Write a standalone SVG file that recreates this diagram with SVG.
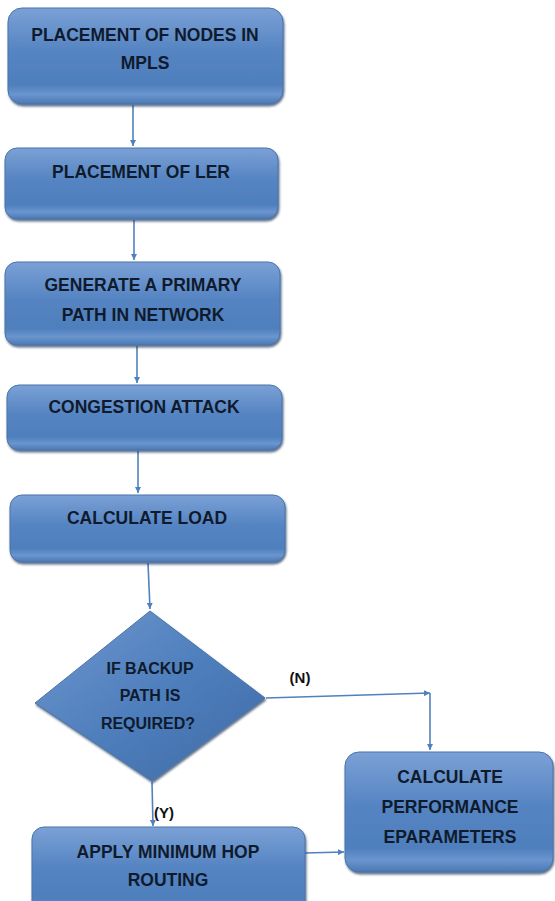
<svg xmlns="http://www.w3.org/2000/svg" width="555" height="901" viewBox="0 0 555 901">
<defs>
<linearGradient id="g" x1="0" y1="0" x2="0" y2="1">
<stop offset="0" stop-color="#7ba1d6"/>
<stop offset="0.45" stop-color="#5584c2"/>
<stop offset="0.8" stop-color="#4f7fbd"/>
<stop offset="0.9" stop-color="#6a95cf"/>
<stop offset="1" stop-color="#4a78b3"/>
</linearGradient>
<linearGradient id="gd" x1="0" y1="0" x2="1" y2="1">
<stop offset="0" stop-color="#6f97cd"/>
<stop offset="0.5" stop-color="#4f7fbd"/>
<stop offset="1" stop-color="#3d6aa5"/>
</linearGradient>
<filter id="sh" x="-10%" y="-10%" width="130%" height="130%">
<feDropShadow dx="1" dy="2" stdDeviation="1.2" flood-color="#1f3556" flood-opacity="0.7"/>
</filter>
<marker id="ah" viewBox="0 0 10 10" refX="10" refY="5" markerWidth="6" markerHeight="6" orient="auto" markerUnits="userSpaceOnUse">
<path d="M0,0 L10,5 L0,10 z" fill="#4f81bd"/>
</marker>
<style>
.box{fill:url(#g);stroke:#4a74ab;stroke-width:1;filter:url(#sh)}
.dia{fill:url(#gd);stroke:#4a74ab;stroke-width:1;filter:url(#sh)}
.t{font-family:"Liberation Sans",Arial,sans-serif;font-weight:bold;font-size:17.5px;fill:#0f1b2d;text-anchor:middle}
.td{font-size:16px}
.lbl{font-family:"Liberation Sans",Arial,sans-serif;font-weight:bold;font-size:15px;fill:#111;text-anchor:middle}
.c{stroke:#4f81bd;stroke-width:1.6;fill:none}
</style>
</defs>
<g id="connectors">
<line class="c" x1="133" y1="105" x2="133" y2="146" marker-end="url(#ah)"/>
<line class="c" x1="134" y1="220" x2="134" y2="260" marker-end="url(#ah)"/>
<line class="c" x1="137" y1="346" x2="137" y2="383" marker-end="url(#ah)"/>
<line class="c" x1="138" y1="451" x2="138" y2="493" marker-end="url(#ah)"/>
<line class="c" x1="148" y1="563" x2="150" y2="609" marker-end="url(#ah)"/>
<line class="c" x1="266" y1="698" x2="430" y2="693" marker-end="url(#ah)"/>
<line class="c" x1="430" y1="693" x2="430" y2="750" marker-end="url(#ah)"/>
<line class="c" x1="152" y1="782" x2="153" y2="826" marker-end="url(#ah)"/>
<line class="c" x1="305" y1="853" x2="344" y2="852" marker-end="url(#ah)"/>
</g>
<g id="n1">
<rect class="box" x="8" y="8" width="275" height="96" rx="14"/>
<text class="t" x="145" y="41">PLACEMENT OF NODES IN</text>
<text class="t" x="145" y="69">MPLS</text>
</g>
<g id="n2">
<rect class="box" x="5" y="148" width="273" height="71" rx="12"/>
<text class="t" x="141" y="178">PLACEMENT OF LER</text>
</g>
<g id="n3">
<rect class="box" x="5" y="262" width="275" height="83" rx="12"/>
<text class="t" x="143" y="291">GENERATE A PRIMARY</text>
<text class="t" x="143" y="321">PATH IN NETWORK</text>
</g>
<g id="n4">
<rect class="box" x="7" y="385" width="275" height="65" rx="12"/>
<text class="t" x="144" y="413">CONGESTION ATTACK</text>
</g>
<g id="n5">
<rect class="box" x="10" y="495" width="275" height="67" rx="12"/>
<text class="t" x="147" y="524">CALCULATE LOAD</text>
</g>
<g id="n6">
<polygon class="dia" points="150,611 265,698 152,781 35,703"/>
<text class="t td" x="150" y="674">IF BACKUP</text>
<text class="t td" x="150" y="701">PATH IS</text>
<text class="t td" x="148" y="729">REQUIRED?</text>
</g>
<text class="lbl" x="300" y="683">(N)</text>
<text class="lbl" x="164" y="818">(Y)</text>
<g id="n7">
<rect class="box" x="345" y="752" width="208" height="120" rx="14"/>
<text class="t" x="450" y="783">CALCULATE</text>
<text class="t" x="450" y="813">PERFORMANCE</text>
<text class="t" x="450" y="843">EPARAMETERS</text>
</g>
<g id="n8">
<rect class="box" x="32" y="827" width="273" height="90" rx="12"/>
<text class="t" x="168" y="858">APPLY MINIMUM HOP</text>
<text class="t" x="168" y="886">ROUTING</text>
</g>
</svg>
